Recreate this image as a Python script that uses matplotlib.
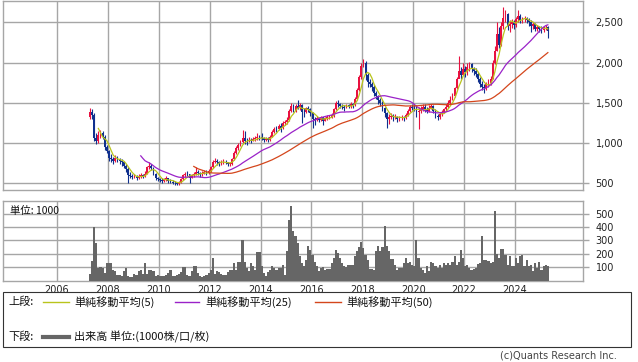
import numpy as np
import matplotlib
matplotlib.use("Agg")
import matplotlib.pyplot as plt
import pandas as pd
from matplotlib.patches import Rectangle
from matplotlib.lines import Line2D

# ---------------- data (monthly, Apr 2007 - Apr 2025) ----------------
start = "2007-04"
first_open = 1330
close = [
    1380,1350,1060,1020,1100,1120,1080,950,900,
    820,800,780,820,800,780,760,720,680,600,590,580,
    590,570,580,600,590,620,700,720,690,620,560,550,
    540,530,550,560,530,520,510,500,495,510,550,600,
    620,610,570,600,610,640,630,610,620,640,630,650,
    700,770,780,760,750,760,770,760,740,740,800,880,
    940,980,1010,1060,1030,1020,1040,1030,1050,1060,1080,1070,
    1060,1040,1050,1040,1080,1140,1180,1170,1210,1190,1250,1260,
    1290,1400,1460,1400,1460,1440,1470,1390,1380,1430,1420,1370,
    1300,1290,1310,1290,1320,1280,1310,1320,1330,1350,1420,1500,
    1480,1460,1450,1440,1470,1460,1480,1470,1550,1660,1820,1960,
    2000,1850,1760,1740,1700,1620,1580,1540,1500,1430,1370,1300,
    1330,1340,1320,1330,1300,1310,1330,1310,1350,1400,1450,1440,
    1430,1380,1400,1420,1450,1420,1400,1440,1460,1400,1340,1320,
    1360,1390,1420,1450,1500,1540,1580,1680,1800,1900,1850,1920,
    1880,1950,1980,1920,1890,1860,1800,1740,1700,1680,1730,1750,
    1800,1990,2150,2350,2220,2450,2550,2600,2450,2480,2500,2470,
    2540,2580,2530,2540,2550,2530,2500,2460,2480,2420,2440,2420,
    2400,2440,2440,2390,
]
high = [
    1440,1420,1370,1120,1150,1160,1150,1100,980,
    920,860,830,850,840,820,800,780,740,700,640,620,
    620,600,610,630,620,650,720,760,740,700,630,580,
    570,560,570,590,570,550,540,530,520,530,570,620,
    640,650,620,620,640,700,660,640,650,670,660,680,
    720,790,810,800,780,790,800,790,770,770,820,900,
    960,1000,1040,1160,1150,1060,1070,1060,1080,1090,1120,1100,
    1120,1080,1080,1070,1100,1160,1200,1210,1240,1250,1280,1290,
    1320,1420,1500,1480,1480,1530,1500,1480,1430,1450,1460,1430,
    1380,1330,1340,1330,1340,1330,1330,1350,1350,1370,1440,1520,
    1530,1500,1490,1470,1490,1490,1510,1500,1570,1690,1850,2000,
    2050,2020,1870,1800,1760,1720,1650,1600,1560,1520,1450,1390,
    1360,1370,1360,1360,1340,1340,1350,1340,1370,1420,1470,1480,
    1480,1470,1450,1460,1480,1490,1450,1470,1490,1470,1420,1360,
    1380,1410,1440,1480,1530,1580,1620,1700,1820,2080,1950,1990,
    1960,2000,2010,2000,1940,1930,1880,1820,1770,1740,1760,1790,
    1830,2030,2200,2500,2440,2500,2690,2650,2620,2530,2540,2530,
    2570,2650,2600,2570,2580,2570,2560,2530,2510,2490,2470,2460,
    2450,2460,2470,2450,
]
low = [
    1300,1300,1030,990,1000,1060,1050,920,880,
    780,770,740,760,770,740,720,690,640,500,560,550,
    560,540,550,570,570,580,610,680,660,600,540,530,
    520,510,520,530,510,500,495,485,480,485,500,540,
    580,590,500,560,580,600,600,580,590,610,600,620,
    640,690,750,730,720,730,740,740,720,720,730,790,
    870,920,960,1000,990,980,1010,1000,1020,1030,1040,1040,
    1040,1010,1020,1010,1030,1070,1130,1140,1160,1140,1180,1230,
    1240,1280,1390,1380,1390,1420,1410,1250,1320,1370,1390,1340,
    1190,1220,1270,1260,1280,1230,1270,1290,1300,1310,1330,1410,
    1450,1430,1420,1400,1430,1430,1440,1440,1460,1540,1650,1800,
    1940,1780,1700,1700,1650,1580,1550,1490,1460,1400,1320,1190,
    1240,1300,1280,1300,1260,1280,1290,1270,1300,1340,1390,1410,
    1400,1330,1180,1370,1400,1390,1370,1390,1420,1370,1310,1290,
    1300,1340,1370,1400,1440,1490,1530,1570,1670,1820,1800,1840,
    1820,1850,1900,1880,1840,1820,1760,1700,1660,1620,1660,1700,
    1720,1790,1980,2140,2180,2200,2420,2500,2400,2380,2430,2420,
    2440,2500,2490,2490,2500,2490,2460,2380,2420,2390,2390,2380,
    2370,2380,2400,2300,
]
volume = [
    50,148,398,280,92,98,92,55,130,130,130,
    75,68,42,42,35,68,92,35,28,25,50,42,68,75,50,130,50,75,80,
    72,35,42,35,35,30,42,55,80,
    35,30,42,50,60,100,100,42,35,68,
    110,105,55,35,25,35,42,55,75,168,
    50,68,60,50,42,42,60,75,80,
    130,80,142,142,300,142,92,68,130,105,
    80,210,210,110,55,35,60,80,110,92,
    80,92,92,118,42,218,455,555,
    368,335,280,185,130,110,150,255,230,193,
    142,105,68,
    92,100,80,85,85,130,168,225,205,168,130,105,100,118,118,118,185,218,250,285,
    243,193,155,85,85,80,218,260,218,250,405,255,218,160,160,118,80,92,92,130,
    168,130,135,118,105,300,168,92,80,55,105,68,142,130,105,92,115,92,130,118,
    130,118,135,185,118,142,230,168,110,118,92,75,85,92,125,130,330,150,155,148,
    130,142,522,200,168,235,235,193,118,185,110,105,168,130,180,193,105,155,105,118,
    68,130,92,142,80,105,118,110,
]
ma_windows = [5, 25, 50]
price_ticks = [500, 1000, 1500, 2000, 2500]
vol_ticks = [100, 200, 300, 400, 500]
year_ticks = [2006, 2008, 2010, 2012, 2014, 2016, 2018, 2020, 2022, 2024]

# ---------------- styles ----------------
W, H = 638, 362
RED, BLUE = "#e8113f", "#10308e"
MA_COLORS = ["#b9c41c", "#9a22c8", "#d4461c"]
GRID = "#a6a6a6"
VOLC = "#666666"
JP = ["Noto Sans CJK JP", "DejaVu Sans"]

n = len(close)
dates = pd.date_range(start, periods=n, freq="MS")
x = dates.year + (dates.month - 0.5) / 12.0
c = np.array(close, float)
o = np.array([first_open] + close[:-1], float)
hi = np.array(high, float)
lo = np.array(low, float)
vol = np.array(volume[:n], float)

def fx(px):
    return px / W

def fy(py):
    return 1 - py / H

fig = plt.figure(figsize=(W / 100, H / 100), dpi=100)
ax = fig.add_axes([fx(3), fy(190), fx(580), 189 / H])
axv = fig.add_axes([fx(3), fy(280.5), fx(580), 79.5 / H])

XL = (2003.877, 2026.673)
for a in (ax, axv):
    a.set_xlim(*XL)
    for s in a.spines.values():
        s.set_color(GRID)
        s.set_linewidth(1.0)
    a.set_xticks(year_ticks)
    a.grid(True, color=GRID, linewidth=1.0)
    a.set_axisbelow(True)
    a.yaxis.tick_right()
    a.tick_params(axis="y", direction="out", length=4, width=1, color=GRID,
                  labelsize=7, pad=5, labelcolor="#222222")
    a.tick_params(axis="x", length=0, labelsize=7, labelcolor="#222222", pad=3)

# price panel
ax.set_ylim(417, 2765)
ax.set_yticks(price_ticks)
ax.set_yticklabels([f"{v:,}" for v in price_ticks])
ax.tick_params(axis="x", labelbottom=False)
up = c >= o
cols = np.where(up, RED, BLUE)
ax.vlines(x, lo, hi, colors=cols, linewidth=0.8, zorder=2)
ax.bar(x, np.maximum(np.abs(c - o), 8), bottom=np.minimum(o, c), width=0.07,
       color=cols, linewidth=0, zorder=3)
s = pd.Series(c)
for w, col in zip(ma_windows, MA_COLORS):
    ax.plot(x, s.rolling(w).mean(), color=col, linewidth=0.9, zorder=4)

# volume panel
axv.set_ylim(0, 595)
axv.set_yticks(vol_ticks)
axv.bar(x, vol, width=1 / 12, color=VOLC, linewidth=0, zorder=3)
axv.text(0.012, 0.87, "単位: 1000", transform=axv.transAxes, fontsize=7.5,
         family=JP, va="center", ha="left", color="#111111")

# legend box
fig.add_artist(Rectangle((fx(3), fy(347)), fx(628), 55 / H, fill=False,
                         edgecolor="#333333", linewidth=0.8,
                         transform=fig.transFigure))
def legtext(px, py, t):
    fig.text(fx(px), fy(py), t, fontsize=8, family=JP, va="center",
             ha="left", color="#111111")

def legline(x0, x1, py, col, lw):
    fig.add_artist(Line2D([fx(x0), fx(x1)], [fy(py), fy(py)], color=col,
                          linewidth=lw, transform=fig.transFigure))

y1, y2 = 302, 337
legtext(8, y1, "上段:")
legline(43, 69, y1, MA_COLORS[0], 1.0)
legtext(74, y1, "単純移動平均(5)")
legline(175, 199, y1, MA_COLORS[1], 1.0)
legtext(205, y1, "単純移動平均(25)")
legline(315, 341, y1, MA_COLORS[2], 1.0)
legtext(346, y1, "単純移動平均(50)")
legtext(8, y2, "下段:")
legline(43, 69, y2, VOLC, 3.0)
legtext(74, y2, "出来高 単位:(1000株/口/枚)")
fig.text(fx(617), fy(356), "(c)Quants Research Inc.", fontsize=7, ha="right",
         va="center", color="#444444")

fig.savefig("out.png", dpi=100)
